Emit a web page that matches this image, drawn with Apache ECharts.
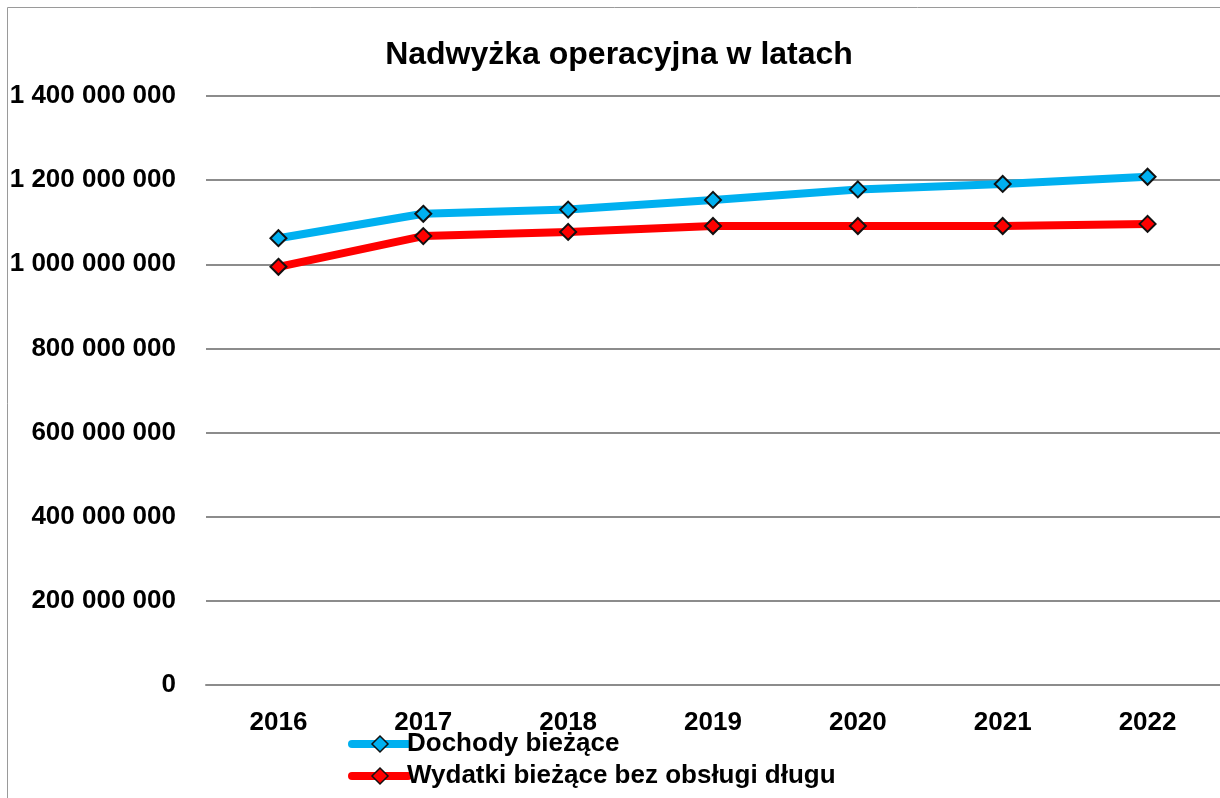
<!DOCTYPE html>
<html>
<head>
<meta charset="utf-8">
<script src="https://cdn.jsdelivr.net/npm/echarts@6/dist/echarts.min.js"></script>
<style>
  html, body { margin: 0; padding: 0; background: #fff; }
  #chart { width: 1220px; height: 798px; }
</style>
</head>
<body>
<div id="chart"></div>
<script>
// data
const years = ['2016', '2017', '2018', '2019', '2020', '2021', '2022'];
const dochody = [1062000000, 1120000000, 1130000000, 1153000000, 1178000000, 1191000000, 1208000000];
const wydatki = [994000000, 1067000000, 1077000000, 1091000000, 1091000000, 1091000000, 1096000000];
const seriesNames = ['Dochody bieżące', 'Wydatki bieżące bez obsługi długu'];
const colors = ['#00B0F0', '#FF0000'];

const FONT = '"Liberation Sans", Arial, sans-serif';

function fmt(v) {
  return String(v).replace(/\B(?=(\d{3})+(?!\d))/g, ' ');
}

function legendFor(name, top) {
  return {
    left: 343,
    top: top,
    itemWidth: 56,
    itemHeight: 20,
    data: [name],
    lineStyle: { width: 8, cap: 'round' },
    itemStyle: { borderColor: '#111', borderWidth: 1.5 },
    textStyle: { fontFamily: FONT, fontWeight: 'bold', fontSize: 26, color: '#000', padding: [0, 0, 0, -6] }
  };
}

let chart = echarts.init(document.getElementById('chart'), null, { renderer: 'canvas' });

let option = {
  backgroundColor: '#fff',
  animation: false,
  title: {
    text: 'Nadwyżka operacyjna w latach',
    left: 614,
    textAlign: 'center',
    top: 34,
    textStyle: { fontFamily: FONT, fontWeight: 'bold', fontSize: 32, color: '#000' }
  },
  graphic: [{
    type: 'rect',
    shape: { x: 7.5, y: 7.5, width: 1230, height: 820 },
    style: { fill: 'none', stroke: '#9a9a9a', lineWidth: 1 },
    silent: true
  }],
  legend: [legendFor(seriesNames[0], 726), legendFor(seriesNames[1], 758)],
  grid: { left: 206, right: 0, top: 96, bottom: 113 },
  xAxis: {
    type: 'category',
    data: years,
    boundaryGap: true,
    axisLine: { lineStyle: { color: '#8c8c8c', width: 2 } },
    axisTick: { show: false },
    axisLabel: { margin: 25, fontFamily: FONT, fontWeight: 'bold', fontSize: 26, color: '#000' }
  },
  yAxis: {
    type: 'value',
    min: 0,
    max: 1400000000,
    interval: 200000000,
    axisLine: { show: false },
    axisTick: { show: false },
    splitLine: { lineStyle: { color: '#8c8c8c', width: 2 } },
    axisLabel: { margin: 30, formatter: fmt, fontFamily: FONT, fontWeight: 'bold', fontSize: 26, color: '#000' }
  },
  series: [
    {
      name: seriesNames[0],
      type: 'line',
      data: dochody,
      symbol: 'diamond',
      symbolSize: 16,
      lineStyle: { color: colors[0], width: 8 },
      itemStyle: { color: colors[0], borderColor: '#111', borderWidth: 2 }
    },
    {
      name: seriesNames[1],
      type: 'line',
      data: wydatki,
      symbol: 'diamond',
      symbolSize: 16,
      lineStyle: { color: colors[1], width: 8 },
      itemStyle: { color: colors[1], borderColor: '#111', borderWidth: 2 }
    }
  ]
};

chart.setOption(option);
</script>
</body>
</html>
